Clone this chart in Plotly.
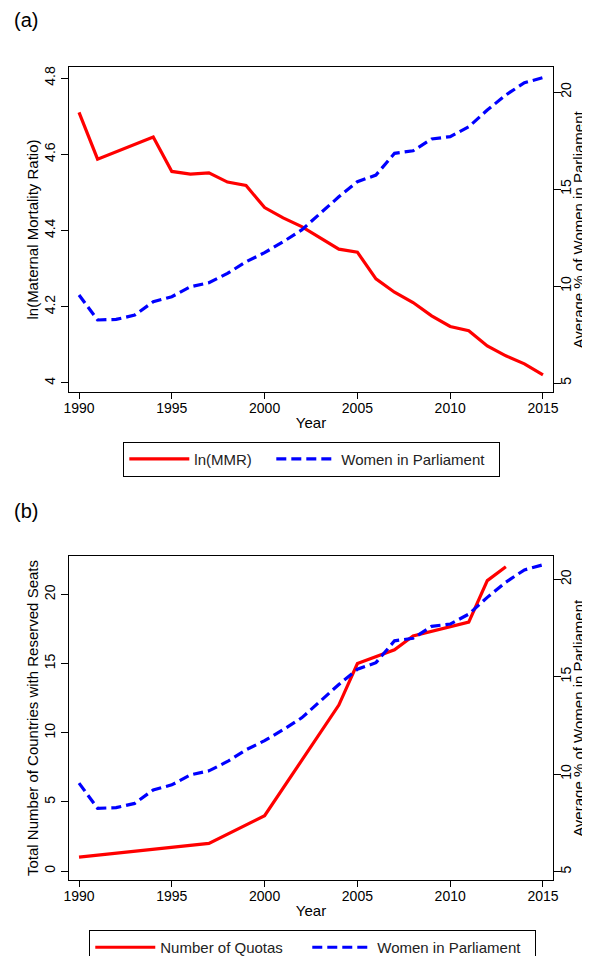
import plotly.graph_objects as go

# ---------------- data ----------------
years_mmr = [1990, 1991, 1994, 1995, 1996, 1997, 1998, 1999, 2000, 2001, 2002, 2003,
             2004, 2005, 2006, 2007, 2008, 2009, 2010, 2011, 2012, 2013, 2014, 2015]
ln_mmr = [4.71, 4.587, 4.645, 4.555, 4.548, 4.551, 4.527, 4.518, 4.46, 4.433, 4.41, 4.38,
          4.351, 4.343, 4.273, 4.238, 4.211, 4.176, 4.148, 4.137, 4.097, 4.071, 4.05, 4.021]

years_wp = list(range(1990, 2016))
women_parl = [9.54, 8.25, 8.28, 8.5, 9.19, 9.45, 9.96, 10.17, 10.65, 11.25, 11.72, 12.28,
              12.89, 13.75, 14.6, 15.38, 15.72, 16.84, 16.97, 17.58, 17.7, 18.21, 19.07,
              19.85, 20.48, 20.74]

years_quota = [1990, 1997, 2000, 2004, 2005, 2007, 2008, 2011, 2012, 2013]
n_quotas = [1, 2, 4, 12, 15, 16, 17, 18, 21, 22]

x_ticks = [1990, 1995, 2000, 2005, 2010, 2015]
mmr_ticks = [4, 4.2, 4.4, 4.6, 4.8]
mmr_ticktext = ["4", "4.2", "4.4", "4.6", "4.8"]
wp_ticks = [5, 10, 15, 20]
quota_ticks = [0, 5, 10, 15, 20]

right_title = "Average % of Women in Parliament"

# ---------------- style ----------------
RED = "#ff0000"
BLUE = "#0000ff"
FONT = "Liberation Sans, Arial, sans-serif"
LW = 3.2
DASH = "10px,5px"

fig = go.Figure()
fig.add_trace(go.Scatter(x=years_mmr, y=ln_mmr, mode="lines", name="ln(MMR)",
                         line=dict(color=RED, width=LW), xaxis="x", yaxis="y",
                         legend="legend", legendwidth=72))
fig.add_trace(go.Scatter(x=years_wp, y=women_parl, mode="lines", name="Women in Parliament",
                         line=dict(color=BLUE, width=LW, dash=DASH), xaxis="x", yaxis="y2",
                         legend="legend", legendwidth=153))
fig.add_trace(go.Scatter(x=years_quota, y=n_quotas, mode="lines", name="Number of Quotas",
                         line=dict(color=RED, width=LW), xaxis="x2", yaxis="y3",
                         legend="legend2", legendwidth=142))
fig.add_trace(go.Scatter(x=years_wp, y=women_parl, mode="lines", name="Women in Parliament",
                         line=dict(color=BLUE, width=LW, dash=DASH), xaxis="x2", yaxis="y4",
                         legend="legend2", legendwidth=153))

tickfont = dict(family=FONT, size=14, color="black")
titlefont = dict(family=FONT, size=15, color="black")

common_x = dict(range=[1989.46, 2015.54], tickmode="array", tickvals=x_ticks,
                ticks="outside", ticklen=6, tickcolor="black", showline=True,
                linecolor="black", linewidth=1, mirror=True, showgrid=False,
                zeroline=False, tickfont=tickfont, automargin=False,
                ticklabelstandoff=-3,
                title=dict(text="Year", font=titlefont, standoff=2))
common_y = dict(ticks="outside", ticklen=7, tickcolor="black", showline=True,
                linecolor="black", linewidth=1, showgrid=False, zeroline=False,
                tickfont=tickfont, tickangle=-90, automargin=False)

# the page body adds an 8px offset, so the figure is laid out 8px up/left
fig.update_layout(
    width=590, height=956,
    margin=dict(l=61, r=45, t=59, b=84, autoexpand=False),
    paper_bgcolor="white", plot_bgcolor="white",
    font=dict(family=FONT, color="black"),
    xaxis=dict(domain=[0, 1], anchor="y", **common_x),
    yaxis=dict(domain=[0.6002, 1], anchor="x", range=[3.976, 4.829],
               tickmode="array", tickvals=mmr_ticks, ticktext=mmr_ticktext,
               title=dict(text="ln(Maternal Mortality Ratio)", font=titlefont, standoff=0),
               **common_y),
    yaxis2=dict(overlaying="y", side="right", anchor="x", range=[4.536, 21.29],
                tickmode="array", tickvals=wp_ticks, ticklabelstandoff=-7, **common_y),
    xaxis2=dict(domain=[0, 1], anchor="y3", **common_x),
    yaxis3=dict(domain=[0, 0.3985], anchor="x2", range=[-0.65, 22.78],
                tickmode="array", tickvals=quota_ticks,
                title=dict(text="Total Number of Countries with Reserved Seats", font=titlefont, standoff=0),
                **common_y),
    yaxis4=dict(overlaying="y3", side="right", anchor="x2", range=[4.57, 21.19],
                tickmode="array", tickvals=wp_ticks, ticklabelstandoff=-7, **common_y),
    legend=dict(orientation="h", x=0.1122, xanchor="left", y=0.5391, yanchor="top",
                bordercolor="black", borderwidth=1, bgcolor="white",
                font=dict(family=FONT, size=15, color="#222"), itemwidth=60),
    legend2=dict(orientation="h", x=0.0419, xanchor="left", y=-0.0615, yanchor="top",
                 bordercolor="black", borderwidth=1, bgcolor="white",
                 font=dict(family=FONT, size=15, color="#222"), itemwidth=60),
    annotations=[
        dict(text="(a)", x=-0.1178, y=1.0578, xref="paper", yref="paper",
             xanchor="left", yanchor="middle", showarrow=False,
             font=dict(family=FONT, size=20, color="black")),
        dict(text="(b)", x=-0.1178, y=0.4542, xref="paper", yref="paper",
             xanchor="left", yanchor="middle", showarrow=False,
             font=dict(family=FONT, size=20, color="black")),
        dict(text=right_title, x=1.0535, y=0.8001, xref="paper", yref="paper",
             xanchor="center", yanchor="middle", textangle=-90, showarrow=False,
             font=titlefont),
        dict(text=right_title, x=1.0535, y=0.1993, xref="paper", yref="paper",
             xanchor="center", yanchor="middle", textangle=-90, showarrow=False,
             font=titlefont),
    ],
)

fig.write_html("out.html")
